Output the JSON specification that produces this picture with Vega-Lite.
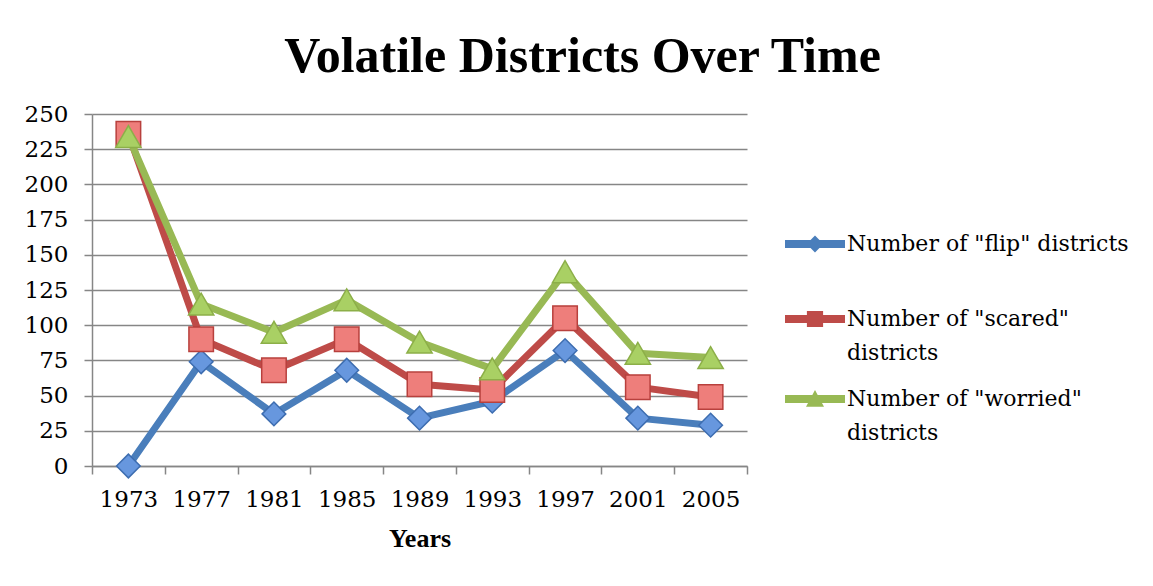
{
  "$schema": "https://vega.github.io/schema/vega-lite/v6.json",
  "width": 655,
  "height": 352,
  "autosize": {"type": "none"},
  "padding": {"left": 92, "top": 114, "right": 406, "bottom": 120},
  "background": "white",
  "title": {"text": "Volatile Districts Over Time", "font": "Liberation Serif", "fontSize": 50, "fontWeight": "bold", "color": "black", "anchor": "middle", "frame": "group", "dx": 163, "offset": 21},
  "config": {"view": {"stroke": null}, "font": "DejaVu Serif",
    "style": {"guide-label": {"lineHeight": 34}},
    "legend": {"title": null, "orient": "none", "legendX": 693, "legendY": 100, "symbolSize": 3600, "symbolOpacity": 1, "symbolStrokeWidth": 0,
      "labelFont": "DejaVu Serif", "labelFontSize": 22, "labelColor": "black", "labelOffset": 2, "rowPadding": 5, "labelLimit": 400, "labelBaseline": "middle"}},
  "data": {"values": [
    {"year": 1973, "series": "Number of \"flip\" districts", "count": 0},
    {"year": 1977, "series": "Number of \"flip\" districts", "count": 74},
    {"year": 1981, "series": "Number of \"flip\" districts", "count": 37},
    {"year": 1985, "series": "Number of \"flip\" districts", "count": 68},
    {"year": 1989, "series": "Number of \"flip\" districts", "count": 34},
    {"year": 1993, "series": "Number of \"flip\" districts", "count": 46},
    {"year": 1997, "series": "Number of \"flip\" districts", "count": 82},
    {"year": 2001, "series": "Number of \"flip\" districts", "count": 34},
    {"year": 2005, "series": "Number of \"flip\" districts", "count": 29},
    {"year": 1973, "series": "Number of \"scared\" districts", "count": 236},
    {"year": 1977, "series": "Number of \"scared\" districts", "count": 90},
    {"year": 1981, "series": "Number of \"scared\" districts", "count": 68},
    {"year": 1985, "series": "Number of \"scared\" districts", "count": 90},
    {"year": 1989, "series": "Number of \"scared\" districts", "count": 58},
    {"year": 1993, "series": "Number of \"scared\" districts", "count": 54},
    {"year": 1997, "series": "Number of \"scared\" districts", "count": 105},
    {"year": 2001, "series": "Number of \"scared\" districts", "count": 56},
    {"year": 2005, "series": "Number of \"scared\" districts", "count": 49},
    {"year": 1973, "series": "Number of \"worried\" districts", "count": 234},
    {"year": 1977, "series": "Number of \"worried\" districts", "count": 115},
    {"year": 1981, "series": "Number of \"worried\" districts", "count": 95},
    {"year": 1985, "series": "Number of \"worried\" districts", "count": 118},
    {"year": 1989, "series": "Number of \"worried\" districts", "count": 88},
    {"year": 1993, "series": "Number of \"worried\" districts", "count": 69},
    {"year": 1997, "series": "Number of \"worried\" districts", "count": 138},
    {"year": 2001, "series": "Number of \"worried\" districts", "count": 80},
    {"year": 2005, "series": "Number of \"worried\" districts", "count": 77}
  ]},
  "encoding": {
    "x": {"field": "year", "type": "ordinal", "bandPosition": 0.5,
      "scale": {"type": "band", "paddingInner": 0, "paddingOuter": 0},
      "axis": {"title": "Years", "titleFont": "Liberation Serif", "titleFontSize": 26, "titleFontWeight": "bold", "titleColor": "black", "titlePadding": 14,
        "labelAngle": 0, "labelFont": "DejaVu Serif", "labelFontSize": 23, "labelColor": "black", "labelPadding": 14,
        "tickBand": "extent", "tickSize": 8, "tickColor": "#868686", "tickWidth": 1.5, "domainColor": "#868686", "domainWidth": 1.5, "grid": false}},
    "y": {"field": "count", "type": "quantitative",
      "scale": {"domain": [0, 250], "nice": false},
      "axis": {"title": null, "values": [0, 25, 50, 75, 100, 125, 150, 175, 200, 225, 250],
        "labelFont": "DejaVu Serif", "labelFontSize": 23, "labelColor": "black", "labelPadding": 16,
        "tickSize": 8, "tickColor": "#868686", "tickWidth": 1.5, "gridColor": "#868686", "gridWidth": 1.5, "domainColor": "#868686", "domainWidth": 1.5, "grid": true}}
  },
  "layer": [
    {
      "mark": {"type": "line", "strokeWidth": 7, "strokeCap": "round", "strokeJoin": "round"},
      "encoding": {
        "stroke": {"field": "series", "type": "nominal",
          "scale": {"domain": ["Number of \"flip\" districts", "Number of \"scared\" districts", "Number of \"worried\" districts"], "range": ["#4A7EBB", "#BE4B48", "#98B954"]},
          "legend": {"rowPadding": 5, "labelExpr": "indexof(datum.label, 'scared') >= 0 ? ['Number of \"scared\"', 'districts'] : indexof(datum.label, 'worried') >= 0 ? ['Number of \"worried\"', 'districts'] : datum.label"}}
      }
    },
    {
      "transform": [{"filter": "indexof(datum.series, 'flip') >= 0"}],
      "mark": {"type": "point", "shape": "diamond", "filled": true, "size": 560, "fill": "#6797DE", "stroke": "#3D6DB0", "strokeWidth": 1.5, "opacity": 1}
    },
    {
      "transform": [{"filter": "indexof(datum.series, 'scared') >= 0"}],
      "mark": {"type": "point", "shape": "square", "filled": true, "size": 600, "fill": "#EE7E7B", "stroke": "#B8403D", "strokeWidth": 1.5, "opacity": 1}
    },
    {
      "transform": [{"filter": "indexof(datum.series, 'worried') >= 0"}],
      "mark": {"type": "point", "shape": "triangle-up", "filled": true, "size": 640, "fill": "#A9D064", "stroke": "#8CAF48", "strokeWidth": 1.5, "opacity": 1}
    },
    {
      "mark": {"type": "point", "filled": true, "size": 0, "opacity": 1},
      "encoding": {
        "color": {"field": "series", "type": "nominal",
          "scale": {"domain": ["Number of \"flip\" districts", "Number of \"scared\" districts", "Number of \"worried\" districts"], "range": ["#4A7EBB", "#BE4B48", "#98B954"]},
          "legend": {"rowPadding": 5, "labelExpr": "indexof(datum.label, 'scared') >= 0 ? ['Number of \"scared\"', 'districts'] : indexof(datum.label, 'worried') >= 0 ? ['Number of \"worried\"', 'districts'] : datum.label"}},
        "shape": {"field": "series", "type": "nominal",
          "scale": {"domain": ["Number of \"flip\" districts", "Number of \"scared\" districts", "Number of \"worried\" districts"],
            "range": ["M-1,-0.13H1V0.13H-1Z M0,-0.28L0.28,0L0,0.28L-0.28,0Z M0,1.3L0.001,1.3L0,1.301Z", "M-1,-0.13H1V0.13H-1Z M-0.27,-0.27H0.27V0.27H-0.27Z", "M-1,-0.13H1V0.13H-1Z M0,-0.3L0.3,0.26L-0.3,0.26Z"]},
          "legend": {"rowPadding": 5, "labelExpr": "indexof(datum.label, 'scared') >= 0 ? ['Number of \"scared\"', 'districts'] : indexof(datum.label, 'worried') >= 0 ? ['Number of \"worried\"', 'districts'] : datum.label"}}
      }
    }
  ]
}
